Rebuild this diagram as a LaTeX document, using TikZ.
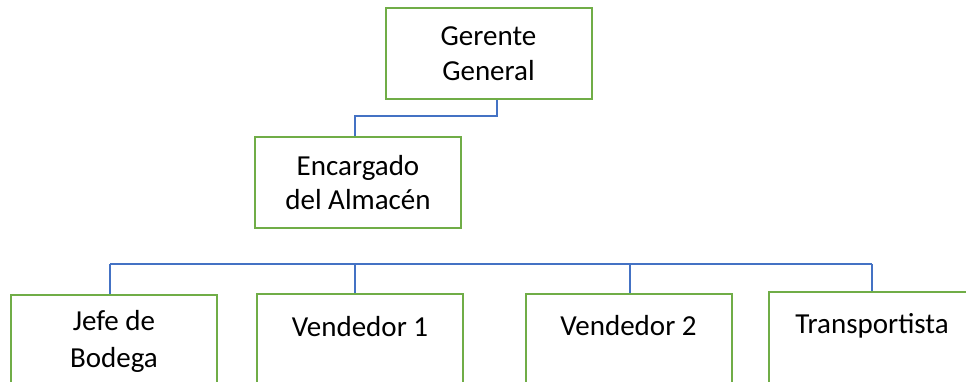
\documentclass[tikz,border=0pt]{standalone}
\usepackage{fontspec}
\setmainfont{Carlito}
\definecolor{boxgreen}{HTML}{70AD47}
\definecolor{linkblue}{HTML}{4472C4}
\begin{document}
\begin{tikzpicture}[x=1pt,y=-1pt,
  box/.style={draw=boxgreen,line width=2pt,fill=white,minimum width=206pt,minimum height=91pt,inner sep=0pt,align=center,font=\fontsize{29}{34.5}\selectfont},
  lbl/.style={inner sep=0pt,align=center,font=\fontsize{29}{37}\selectfont},
  conn/.style={draw=linkblue,line width=1.5pt}]
\clip (0,0) rectangle (966,381);
\fill[white] (0,0) rectangle (966,381);
% top boxes
\node[box] (gg) at (488.5,53.5) {Gerente\\General};
\node[box] (enc) at (358,182.5) {Encargado\\del Almacén};
% bottom boxes (cut by the picture edge)
\node[box,anchor=north] (b1) at (114,294) {};
\node[box,anchor=north] (b2) at (360,293) {};
\node[box,anchor=north] (b3) at (628.5,293) {};
\node[box,anchor=north] (b4) at (872,291) {};
% their labels
\node[lbl] (t1) at (114,341.5) {Jefe de\\Bodega};
\node[lbl,anchor=base] (t2) at (360,336) {Vendedor 1};
\node[lbl,anchor=base] (t3) at (628.5,335) {Vendedor 2};
\node[lbl,anchor=base] (t4) at (872,333) {Transportista};
% connector from Gerente to Encargado
\coordinate (e1) at (497,116);
\coordinate (e2) at (355,116);
\draw[conn] (gg.south -| e1) -- (e1) -- (e2) -- (enc.north -| e2);
% bus to bottom boxes
\coordinate (d1) at (110,264);
\coordinate (d2) at (355,264);
\coordinate (d3) at (630,264);
\coordinate (d4) at (872,264);
\draw[conn] (d1) -- (d4);
\draw[conn] (d1) -- (b1.north -| d1);
\draw[conn] (d2) -- (b2.north -| d2);
\draw[conn] (d3) -- (b3.north -| d3);
\draw[conn] (d4) -- (b4.north -| d4);
\end{tikzpicture}
\end{document}
